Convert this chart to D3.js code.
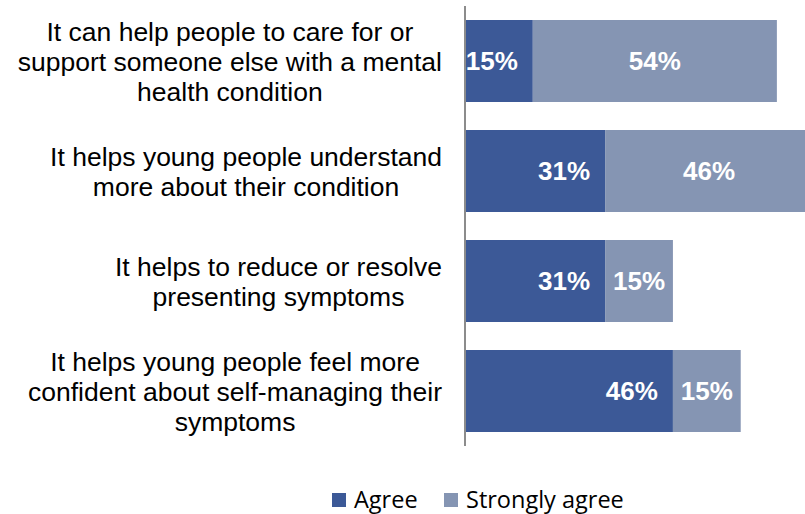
<!DOCTYPE html>
<html>
<head>
<meta charset="utf-8">
<script src="https://cdn.jsdelivr.net/npm/d3@7"></script>
<style>
  body { margin: 0; background: #fff; }
  svg { display: block; }
</style>
</head>
<body>
<svg id="chart" width="805" height="514"></svg>
<script>
// category labels, already broken into lines as in the picture
const categories = [
    ["It can help people to care for or", "support someone else with a mental", "health condition"],
    ["It helps young people understand", "more about their condition"],
    ["It helps to reduce or resolve", "presenting symptoms"],
    ["It helps young people feel more", "confident about self-managing their", "symptoms"]
];
const agree = [0.15, 0.31, 0.31, 0.46];
const stronglyAgree = [0.54, 0.46, 0.15, 0.15];
const seriesNames = ["Agree", "Strongly agree"];
const colors = ["#3c5997", "#8595b3"];

const svg = d3.select("#chart");
const axisX = 465;

// 100% is about 452px wide in the picture
const x = d3.scaleLinear().domain([0, 1]).range([axisX, axisX + 452]);
const y = d3.scaleBand()
    .domain(d3.range(categories.length))
    .range([6, 446])
    .paddingInner(28 / 110)
    .paddingOuter(14 / 110);

const rows = categories.map((c, i) => ({i: i, agree: agree[i], strong: stronglyAgree[i]}));

const barG = svg.append("g");

// agree segment
barG.selectAll(".agree").data(rows).enter()
    .append("rect")
    .attr("class", "agree")
    .attr("x", x(0))
    .attr("y", d => y(d.i))
    .attr("width", d => x(d.agree) - x(0))
    .attr("height", y.bandwidth())
    .style("fill", colors[0]);

// strongly agree segment stacked on top
barG.selectAll(".strong").data(rows).enter()
    .append("rect")
    .attr("class", "strong")
    .attr("x", d => x(d.agree))
    .attr("y", d => y(d.i))
    .attr("width", d => x(d.agree + d.strong) - x(d.agree))
    .attr("height", y.bandwidth())
    .style("fill", colors[1]);

const fmt = d3.format(".0%");
const labFont = "bold 26px 'Liberation Sans', Arial, sans-serif";

// labels: agree sits at inside end, strongly agree is centred
barG.selectAll(".lab-agree").data(rows).enter()
    .append("text")
    .attr("x", d => x(d.agree) - 15)
    .attr("y", d => y(d.i) + y.bandwidth() / 2)
    .attr("dy", "0.36em")
    .attr("text-anchor", "end")
    .style("font", labFont)
    .style("fill", "#fff")
    .text(d => fmt(d.agree));

barG.selectAll(".lab-strong").data(rows).enter()
    .append("text")
    .attr("x", d => (x(d.agree) + x(d.agree + d.strong)) / 2)
    .attr("y", d => y(d.i) + y.bandwidth() / 2)
    .attr("dy", "0.36em")
    .attr("text-anchor", "middle")
    .style("font", labFont)
    .style("fill", "#fff")
    .text(d => fmt(d.strong));

// vertical axis line
svg.append("line")
    .attr("x1", axisX).attr("x2", axisX)
    .attr("y1", 6).attr("y2", 446)
    .style("stroke", "#8c8c8c")
    .style("stroke-width", 2);

// category text: block is right aligned next to the axis, lines centred in it
const lineH = 30;
const labelRight = 442;
const catG = svg.append("g");
categories.forEach((lines, i) => {
    const cy = y(i) + y.bandwidth() / 2;
    const t = catG.append("text")
        .attr("text-anchor", "middle")
        .style("font", "26.5px 'Liberation Sans', Arial, sans-serif")
        .style("fill", "#000");
    const spans = lines.map((ln, k) => t.append("tspan")
        .attr("y", cy + (k - (lines.length - 1) / 2) * lineH)
        .attr("dy", "0.36em")
        .text(ln));
    const maxW = d3.max(spans, s => s.node().getComputedTextLength());
    spans.forEach(s => s.attr("x", labelRight - maxW / 2));
});

// legend
const legend = svg.append("g").attr("transform", "translate(332,500)");
const legX = [0, 112];
seriesNames.forEach((name, i) => {
    const g = legend.append("g").attr("transform", "translate(" + legX[i] + ",0)");
    g.append("rect")
        .attr("x", 0).attr("y", -7)
        .attr("width", 14).attr("height", 14)
        .style("fill", colors[i]);
    g.append("text")
        .attr("x", 22)
        .attr("dy", "0.35em")
        .style("font", "23.5px 'Open Sans', Carlito, Calibri, sans-serif")
        .style("fill", "#000")
        .text(name);
});
</script>
</body>
</html>
